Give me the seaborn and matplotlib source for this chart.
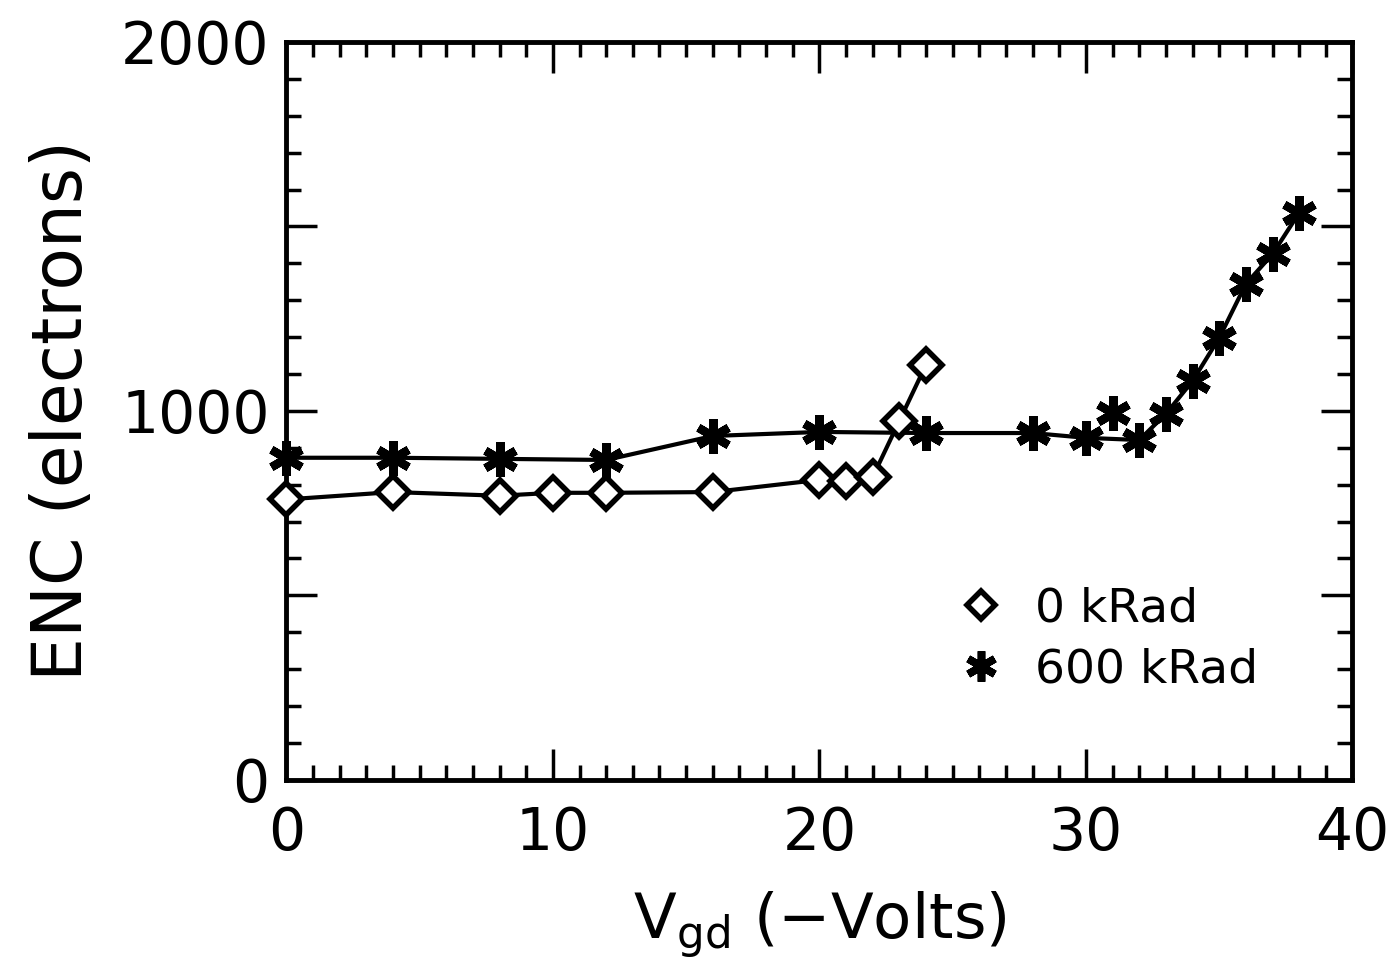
import matplotlib
matplotlib.use("Agg")
import matplotlib.pyplot as plt
from matplotlib.lines import Line2D
from matplotlib.ticker import FixedLocator, MultipleLocator
import seaborn as sns
import pandas as pd

# 0 kRad (open diamonds)
vgd_0k = [0, 4, 8, 10, 12, 16, 20, 21, 22, 23, 24]
enc_0k = [760, 780, 770, 778, 778, 780, 813, 810, 821, 973, 1125]

# 600 kRad (asterisks), connected points
vgd_600k = [0, 4, 8, 12, 16, 20, 24, 28, 30, 32, 33, 34, 35, 36, 37, 38]
enc_600k = [873, 873, 870, 867, 932, 943, 940, 940, 927, 921, 992, 1081, 1198, 1344, 1425, 1537]

# lone 600 kRad point not on the line
vgd_extra = [31]
enc_extra = [995]

legend_labels = ["0 kRad", "600 kRad"]
x_ticks = [0, 10, 20, 30, 40]
y_ticks = [0, 500, 1000, 1500, 2000]
y_tick_labels = ["0", "", "1000", "", "2000"]

sns.set_style("ticks")
plt.rcParams["font.family"] = ["DejaVu Sans"]
plt.rcParams["text.color"] = "black"
plt.rcParams["axes.labelcolor"] = "black"

fig = plt.figure(figsize=(13.9, 9.76), dpi=100)
ax = fig.add_axes([0.206, 0.201, 0.767, 0.756])

star = (6, 2, 0)
df0 = pd.DataFrame({"x": vgd_0k, "y": enc_0k})
df6 = pd.DataFrame({"x": vgd_600k, "y": enc_600k})
dfe = pd.DataFrame({"x": vgd_extra, "y": enc_extra})

sns.lineplot(data=df6, x="x", y="y", ax=ax, color="black",
             estimator=None, sort=False)
sns.lineplot(data=dfe, x="x", y="y", ax=ax, color="black",
             estimator=None, sort=False)
sns.lineplot(data=df0, x="x", y="y", ax=ax, color="black",
             estimator=None, sort=False)

# style the lines drawn by seaborn
l6, le, l0 = ax.lines[0], ax.lines[1], ax.lines[2]
for ln in (l6, le):
    ln.set_marker(star)
    ln.set_markersize(25)
    ln.set_markeredgewidth(6)
    ln.set_markeredgecolor("black")
    ln.set_linewidth(3)
    ln.set_linestyle("-")
    ln.set_clip_on(False)
    ln.set_zorder(3)
le.set_linestyle("")
l0.set_marker("D")
l0.set_markersize(16)
l0.set_markeredgewidth(4)
l0.set_markerfacecolor("white")
l0.set_markeredgecolor("black")
l0.set_linewidth(3)
l0.set_linestyle("-")
l0.set_clip_on(False)
l0.set_zorder(4)

ax.set_xlim(0, 40)
ax.set_ylim(0, 2000)
ax.xaxis.set_major_locator(FixedLocator(x_ticks))
ax.xaxis.set_minor_locator(MultipleLocator(1))
ax.yaxis.set_major_locator(FixedLocator(y_ticks))
ax.yaxis.set_minor_locator(MultipleLocator(100))
ax.set_yticklabels(y_tick_labels)

ax.tick_params(which="both", direction="in", top=True, right=True,
               labelsize=42, width=2.5, color="black", labelcolor="black")
ax.tick_params(which="major", length=22)
ax.tick_params(axis="x", which="major", pad=18)
ax.tick_params(axis="y", which="major", pad=12)
ax.tick_params(which="minor", length=11)
for s in ax.spines.values():
    s.set_linewidth(3.5)
    s.set_color("black")

ax.set_xlabel(r"$\mathregular{V_{gd}}$ (−Volts)", fontsize=45, labelpad=20)
ax.set_ylabel("ENC (electrons)", fontsize=50, labelpad=18)

handles = [
    Line2D([], [], color="black", linestyle="", marker="D", markersize=14,
           markeredgewidth=4, markerfacecolor="white"),
    Line2D([], [], color="black", linestyle="", marker=star, markersize=22,
           markeredgewidth=5.5),
]
leg = ax.legend(handles, legend_labels, loc="center left", bbox_to_anchor=(0.585, 0.19),
                frameon=False, fontsize=34, handletextpad=0.55, labelspacing=0.35,
                handlelength=1.2)
for t in leg.get_texts():
    t.set_color("black")

fig.savefig("out.png", dpi=100)
